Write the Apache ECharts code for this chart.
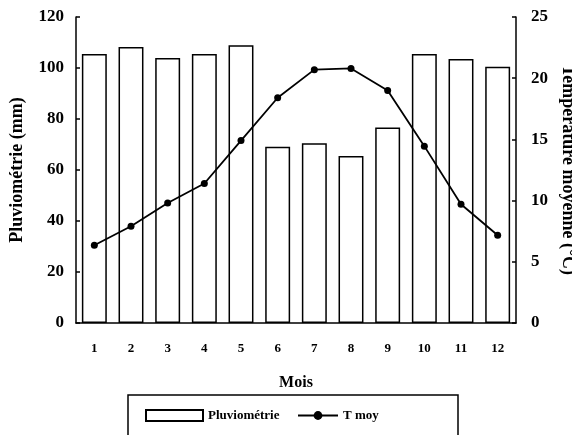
<!DOCTYPE html>
<html><head><meta charset="utf-8">
<script src="https://cdn.jsdelivr.net/npm/echarts@6/dist/echarts.min.js"></script>
<style>html,body{margin:0;padding:0;background:#fff}#c{width:572px;height:435px}</style>
</head><body><div id="c"></div>
<script>
const months = ['1','2','3','4','5','6','7','8','9','10','11','12'];
const pluvio = [105.5, 108.2, 103.9, 105.5, 108.9, 69.1, 70.5, 65.5, 76.7, 105.5, 103.5, 100.5];
const tmoy = [6.35, 7.9, 9.8, 11.4, 14.9, 18.4, 20.7, 20.8, 19.0, 14.45, 9.7, 7.17];
const leftTicks = [0, 20, 40, 60, 80, 100, 120];
const rightTicks = [0, 5, 10, 15, 20, 25];

const FONT = '"Liberation Serif", "Times New Roman", serif';
const chart = echarts.init(document.getElementById('c'));
chart.setOption({
  animation: false,
  backgroundColor: '#fff',
  grid: { left: 76, right: 56, top: 17, bottom: 112, outerBoundsMode: 'none', containLabel: false },
  graphic: [{ type: 'rect', shape: { x: 128, y: 395, width: 330, height: 60 }, style: { fill: 'none', stroke: '#000', lineWidth: 1.5 }, silent: true }],
  legend: [
    { data: ['Pluviométrie'], icon: 'rect', left: 140, top: 404, itemWidth: 57, itemHeight: 11, itemGap: 10,
      textStyle: { fontFamily: FONT, fontWeight: 'bold', fontSize: 13, color: '#000' } },
    { data: ['T moy'], left: 292, top: 404, itemWidth: 40, itemHeight: 11,
      textStyle: { fontFamily: FONT, fontWeight: 'bold', fontSize: 13, color: '#000' } }
  ],
  xAxis: {
    type: 'category', data: months, name: 'Mois', nameLocation: 'middle', nameGap: 52,
    nameTextStyle: { fontFamily: FONT, fontWeight: 'bold', fontSize: 16, color: '#000' },
    axisLine: { lineStyle: { color: '#000', width: 1.5 } },
    axisTick: { show: false },
    axisLabel: { fontFamily: FONT, fontWeight: 'bold', fontSize: 13, color: '#000', margin: 19 }
  },
  yAxis: [
    { type: 'value', min: 0, max: 120, interval: 20, name: 'Pluviométrie (mm)', nameLocation: 'middle', nameGap: 50,
      nameTextStyle: { fontFamily: FONT, fontWeight: 'bold', fontSize: 18, color: '#000' },
      axisLine: { show: true, lineStyle: { color: '#000', width: 1.5 } },
      axisTick: { show: true, inside: true, length: 4, lineStyle: { color: '#000', width: 1.5 } },
      splitLine: { show: false },
      axisLabel: { fontFamily: FONT, fontWeight: 'bold', fontSize: 17, color: '#000', margin: 12,
        customValues: leftTicks } },
    { type: 'value', min: 0, max: 25, interval: 5, position: 'right', name: 'Température moyenne (°C)', nameLocation: 'middle', nameGap: 41, nameRotate: -90,
      nameTextStyle: { fontFamily: FONT, fontWeight: 'bold', fontSize: 18, color: '#000' },
      axisLine: { show: true, lineStyle: { color: '#000', width: 1.5 } },
      axisTick: { show: true, inside: true, length: 4, lineStyle: { color: '#000', width: 1.5 } },
      splitLine: { show: false },
      axisLabel: { fontFamily: FONT, fontWeight: 'bold', fontSize: 17, color: '#000', margin: 15,
        customValues: rightTicks } }
  ],
  series: [
    { name: 'Pluviométrie', type: 'bar', data: pluvio, barCategoryGap: '32%',
      itemStyle: { color: '#fff', borderColor: '#000', borderWidth: 1.5 } },
    { name: 'T moy', type: 'line', yAxisIndex: 1, data: tmoy, symbol: 'circle', symbolSize: 7,
      lineStyle: { color: '#000', width: 1.8 }, itemStyle: { color: '#000' } }
  ]
});
</script></body></html>
